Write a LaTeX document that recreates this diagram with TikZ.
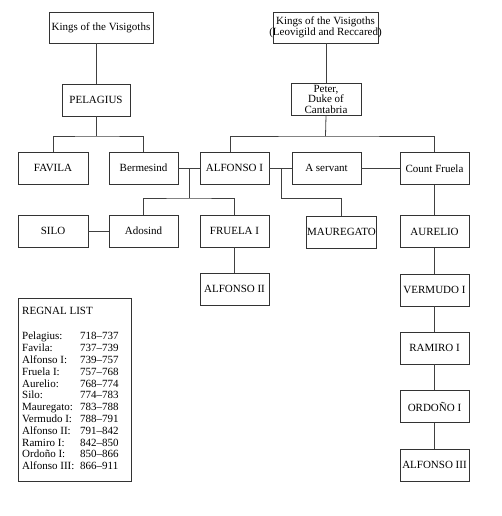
\documentclass[tikz,border=0pt]{standalone}
\usepackage{fontspec}
\setmainfont{Liberation Serif}
\begin{document}
\begin{tikzpicture}[x=1pt,y=-1pt,
  person/.style={draw=black!80, line width=0.9pt, fill=white, minimum width=69pt, minimum height=32pt, inner sep=1pt, align=center, font=\fontsize{11}{10.5}\selectfont},
  tie/.style={draw=black!75, line width=0.8pt}]
\useasboundingbox (0,0) rectangle (502,516);
% top row
\node[person, minimum width=104pt, minimum height=31pt] (kv1) at (101,27.5) {Kings of the Visigoths};
\node[person, minimum width=105pt, minimum height=31pt] (kv2) at (325.5,27.5) {Kings of the Visigoths\\\makebox[100pt]{(Leovigild and Reccared)}};
\node[person, minimum width=68pt] (pelagius) at (96,100) {PELAGIUS};
\node[person, minimum width=70pt] (peter) at (326,99) {Peter,\\Duke of\\Cantabria};
% row 1
\node[person, minimum width=70pt] (favila) at (53,168) {FAVILA};
\node[person] (bermesind) at (143.5,168) {Bermesind};
\node[person] (alfonso1) at (234.5,168) {ALFONSO I};
\node[person] (servant) at (326.5,168) {A servant};
\node[person] (fruela) at (434.5,168.5) {Count Fruela};
% row 2
\node[person, minimum width=70pt] (silo) at (53,231) {SILO};
\node[person] (adosind) at (143.5,231) {Adosind};
\node[person] (fruela1) at (234.5,231) {FRUELA I};
\node[person] (mauregato) at (341.5,232) {MAUREGATO};
\node[person] (aurelio) at (434.5,231.5) {AURELIO};
% lower rows
\node[person] (alfonso2) at (234.5,289) {ALFONSO II};
\node[person] (vermudo) at (434.5,290) {VERMUDO I};
\node[person] (ramiro) at (434.5,348) {RAMIRO I};
\node[person] (ordono) at (434.5,406.5) {ORDOÑO I};
\node[person] (alfonso3) at (434.5,465) {ALFONSO III};
% regnal list
\node[draw=black!80, line width=0.9pt, minimum width=113pt, minimum height=183pt, anchor=north west, inner sep=0pt] (regnal) at (18,298) {};
\node[anchor=north west, inner sep=0pt, font=\fontsize{11}{11.8}\selectfont] (regtext) at (22,306.5) {%
\begin{tabular}{@{}p{58pt}@{}l@{}}
\multicolumn{2}{@{}l@{}}{REGNAL LIST}\\[1.4pt]
 & \\
Pelagius: & 718–737\\
Favila: & 737–739\\
Alfonso I: & 739–757\\
Fruela I: & 757–768\\
Aurelio: & 768–774\\
Silo: & 774–783\\
Mauregato: & 783–788\\
Vermudo I: & 788–791\\
Alfonso II: & 791–842\\
Ramiro I: & 842–850\\
Ordoño I: & 850–866\\
Alfonso III: & 866–911
\end{tabular}};
% coordinates
\coordinate (pbar) at (96,136);
\coordinate (dbar) at (325.5,136);
\coordinate (ja) at (189,168);
\coordinate (jb) at (281,168);
% connectors
\draw[tie] (pelagius.north) -- (pelagius.north |- kv1.south);
\draw[tie] (pelagius.south) -- (pbar);
\draw[tie] (favila.north) |- (pbar) -| (bermesind.north);
\draw[tie] (peter.north) -- (peter.north |- kv2.south);
\draw[tie] (peter.south) -- (dbar);
\draw[tie] ([xshift=-4.5pt]alfonso1.north) |- (dbar) -| (fruela.north);
\draw[tie] (bermesind.east) -- (alfonso1.west);
\draw[tie] (ja) -- ++(0,30) coordinate (ja2);
\draw[tie] (adosind.north) |- (ja2) -| (fruela1.north);
\draw[tie] (alfonso1.east) -- (servant.west);
\draw[tie] (jb) |- ([yshift=17pt]mauregato.north) -- (mauregato.north);
\draw[tie] (servant.east) -- (servant.east -| fruela.west);
\draw[tie] (silo.east) -- (adosind.west);
\draw[tie] (fruela1.south) -- (alfonso2.north);
\draw[tie] (fruela.south) -- (aurelio.north);
\draw[tie] (aurelio.south) -- (vermudo.north);
\draw[tie] (vermudo.south) -- (ramiro.north);
\draw[tie] (ramiro.south) -- (ordono.north);
\draw[tie] (ordono.south) -- (alfonso3.north);
\end{tikzpicture}
\end{document}
